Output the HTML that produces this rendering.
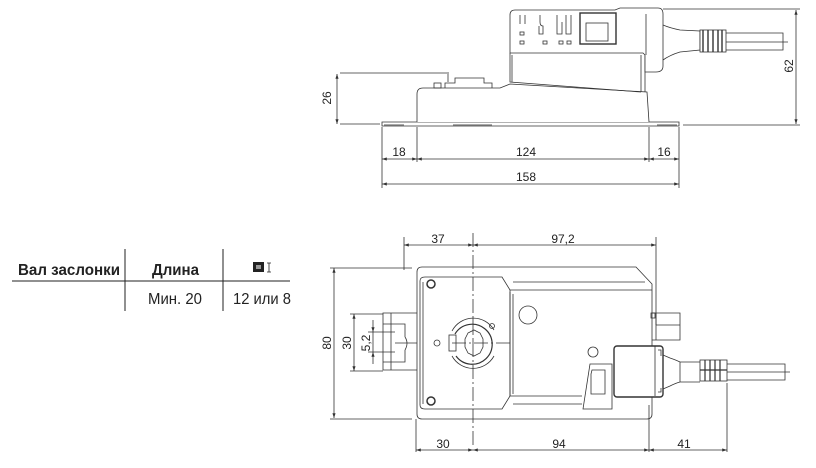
<!DOCTYPE html>
<html><head><meta charset="utf-8"><style>
html,body{margin:0;padding:0;background:#fff;}
svg{display:block;}
text{font-family:"Liberation Sans",sans-serif;fill:#222;}
</style></head><body>
<svg width="816" height="468" viewBox="0 0 816 468" xmlns="http://www.w3.org/2000/svg">
<defs>
<marker id="a" markerWidth="6" markerHeight="4" refX="6" refY="2" orient="auto-start-reverse"><path d="M0,0 L6,2 L0,4z" fill="#333"/></marker>
</defs>
<g fill="none" stroke="#333" stroke-width="0.8">
<!-- TOP VIEW -->
<path d="M382,122 H679 V126 H382z" fill="#fff"/>
<line x1="384" y1="125" x2="404" y2="125" stroke-width="1.2" stroke="#777"/>
<line x1="453" y1="125" x2="492" y2="125" stroke-width="1.2" stroke="#777"/>
<line x1="657" y1="125" x2="677" y2="125" stroke-width="1.2" stroke="#777"/>
<path d="M417,122 V94 Q417,88 423,88 H500 L510,84 L647,92 L649,122" fill="#fff"/>
<path d="M445,88 V83 H455 V78 H484 V83 H492 V88" />
<rect x="434" y="83" width="7" height="5"/>
<line x1="448" y1="72" x2="448" y2="82"/>
<path d="M510,53 V82 L641,92 M512,55 V82 M641,55 V92 M645,55 V92"/>
<path d="M510,53 V15 Q510,10 515,10 H615 L620,8 H658 Q663,8 663,14 V66 Q663,72 656,72 H645 V55 L643,53z" fill="#fff"/>
<path d="M646,14 V55"/>
<rect x="580" y="13" width="36" height="31" stroke-width="1.4"/>
<rect x="586" y="23" width="22" height="18"/>
<path d="M520,15 V24 M525,15 V24 M540,15 V22 Q540,26 543,26 V34 H539 V26 M557,15 V22 V34 H562 V22 M566,15 V34 H571 V15"/>
<rect x="520" y="32" width="4" height="3"/><rect x="520" y="41" width="4" height="3"/>
<rect x="543" y="41" width="4" height="3"/><rect x="559" y="41" width="4" height="3"/><rect x="567" y="41" width="4" height="3"/>
<path d="M663,25 Q670,28 680,30 L700,31 V50 L680,52 Q670,55 663,60"/>
<rect x="700" y="30" width="26" height="22" fill="#fff"/>
<path d="M703,30 V52 M708,30 V52 M713,30 V52 M718,30 V52 M722,30 V52" stroke-width="1.4"/>
<path d="M726,33 H783 V50 H726 M726,42 H788"/>
<path d="M663,9 H800 M683,125 H800 M340,73 H447 M340,124 H380"/>
<line x1="796" y1="10" x2="796" y2="124" marker-start="url(#a)" marker-end="url(#a)"/>
<line x1="337" y1="74" x2="337" y2="124" marker-start="url(#a)" marker-end="url(#a)"/>
<path d="M382,127 V188 M417,127 V162 M649,127 V162 M679,127 V188"/>
<line x1="382" y1="159" x2="417" y2="159" marker-start="url(#a)" marker-end="url(#a)"/>
<line x1="417" y1="159" x2="649" y2="159" marker-start="url(#a)" marker-end="url(#a)"/>
<line x1="649" y1="159" x2="679" y2="159" marker-start="url(#a)" marker-end="url(#a)"/>
<line x1="382" y1="184" x2="679" y2="184" marker-start="url(#a)" marker-end="url(#a)"/>

<!-- BOTTOM VIEW -->
<path d="M417,272 Q417,267 422,267 H636 L652,284 V414 Q652,419 647,419 H422 Q417,419 417,414z" fill="#fff"/>
<path d="M420,281 Q420,277 425,277 H502 L510,290 V396 L502,409 H425 Q420,409 420,405z" fill="#fff"/>
<path d="M423,282 V404"/>
<circle cx="431" cy="284" r="4" stroke-width="1.5"/>
<circle cx="431" cy="401" r="4" stroke-width="1.5"/>
<path d="M510,290 H652 M510,396 H582 M510,292 V396 M513,294 V394"/>
<path d="M513,282 H645 M513,404 H582"/>
<circle cx="528" cy="315" r="9"/>
<circle cx="492" cy="326" r="2.5"/>
<circle cx="437" cy="343" r="3"/>
<circle cx="593" cy="352" r="5"/>
<path d="M455,334 A20,20 0 1,1 456,356" stroke-width="1.2"/>
<path d="M452,331 A24,24 0 0,1 494,330"/>
<path d="M452,356 A24,24 0 0,0 494,356"/>
<rect x="449" y="335" width="7" height="16"/>
<path d="M468,333 L474,330 L480,333 L483,339 L483,347 L480,353 L474,356 L468,353 L465,347 L465,339z"/>
<path d="M417,313 H383 V370 H417 M391,313 V370 M383,324 H405 V337 M383,362 H405 V350 M405,337 Q409,343 405,350"/>
<path d="M652,313 H680 V340 H652 M656,313 V340 M656,325 H680"/>
<rect x="651" y="313" width="4" height="5"/>
<path d="M583,409 L590,364 H612 V409z"/>
<path d="M591,374 V394 H605 V370 H592z"/>
<rect x="614" y="346" width="49" height="51" rx="3" fill="#fff" stroke-width="1.4"/>
<path d="M655,346 V396 M658,350 H661 V356 M658,392 H661 V388"/>
<path d="M663,355 L670,358 Q676,360 680,362 H700 M663,389 L670,386 Q676,383 680,382 H700 M680,362 V382"/>
<rect x="700" y="360" width="27" height="21" fill="#fff"/>
<path d="M705,360 V381 M710,360 V381 M715,360 V381 M720,360 V381 M700,370 H727" stroke-width="1.2"/>
<path d="M727,364 H785 V380 H727 M727,372 H790"/>
<path d="M473,233 V448 M452,343 H510 M473,316 V360" stroke-dasharray="14,3,2,3"/>
<path d="M395,343 H417"/>
<path d="M404,237 V270 M656,237 V325"/>
<line x1="404" y1="245" x2="473" y2="245" marker-start="url(#a)" marker-end="url(#a)"/>
<line x1="473" y1="245" x2="656" y2="245" marker-start="url(#a)" marker-end="url(#a)"/>
<path d="M416,419 V452 M649,405 V452 M727,383 V452"/>
<line x1="416" y1="450" x2="473" y2="450" marker-start="url(#a)" marker-end="url(#a)"/>
<line x1="473" y1="450" x2="649" y2="450" marker-start="url(#a)" marker-end="url(#a)"/>
<line x1="649" y1="450" x2="727" y2="450" marker-start="url(#a)" marker-end="url(#a)"/>
<path d="M330,268 H412 M330,419 H412 M350,314 H383 M350,371 H383 M368,332 H395 M368,352 H395"/>
<line x1="334" y1="268" x2="334" y2="418" marker-start="url(#a)" marker-end="url(#a)"/>
<line x1="354" y1="314" x2="354" y2="371" marker-start="url(#a)" marker-end="url(#a)"/>
<line x1="373" y1="320" x2="373" y2="332" marker-end="url(#a)"/>
<line x1="373" y1="364" x2="373" y2="352" marker-end="url(#a)"/>
<line x1="373" y1="332" x2="373" y2="352"/>
<path d="M12,281 H290 M125,249 V311 M223,249 V311" stroke="#222" stroke-width="1"/>
</g>
<g font-size="12" text-anchor="middle">
<text x="399" y="156">18</text>
<text x="526" y="156">124</text>
<text x="664" y="156">16</text>
<text x="526" y="181">158</text>
<text transform="translate(331,98) rotate(-90)">26</text>
<text transform="translate(793,66) rotate(-90)">62</text>
<text x="438" y="243">37</text>
<text x="563" y="243">97,2</text>
<text x="443" y="448">30</text>
<text x="559" y="448">94</text>
<text x="684" y="448">41</text>
<text transform="translate(331,343) rotate(-90)">80</text>
<text transform="translate(351,343) rotate(-90)">30</text>
<text transform="translate(370,343) rotate(-90)">5,2</text>
</g>
<g font-size="16">
<text x="18" y="275" font-weight="bold" textLength="102" lengthAdjust="spacingAndGlyphs">Вал заслонки</text>
<text x="152" y="275" font-weight="bold" textLength="47" lengthAdjust="spacingAndGlyphs">Длина</text>
<text x="148" y="304" textLength="54" lengthAdjust="spacingAndGlyphs">Мин. 20</text>
<text x="233" y="304" textLength="58" lengthAdjust="spacingAndGlyphs">12 или 8</text>
</g>
<rect x="253" y="262" width="11" height="10" fill="#222"/>
<rect x="256" y="265" width="5" height="4" fill="#999"/>
<path d="M269,263 V272 M267,263 H271 M267,272 H271" stroke="#222" stroke-width="0.8"/>
</svg>
</body></html>
